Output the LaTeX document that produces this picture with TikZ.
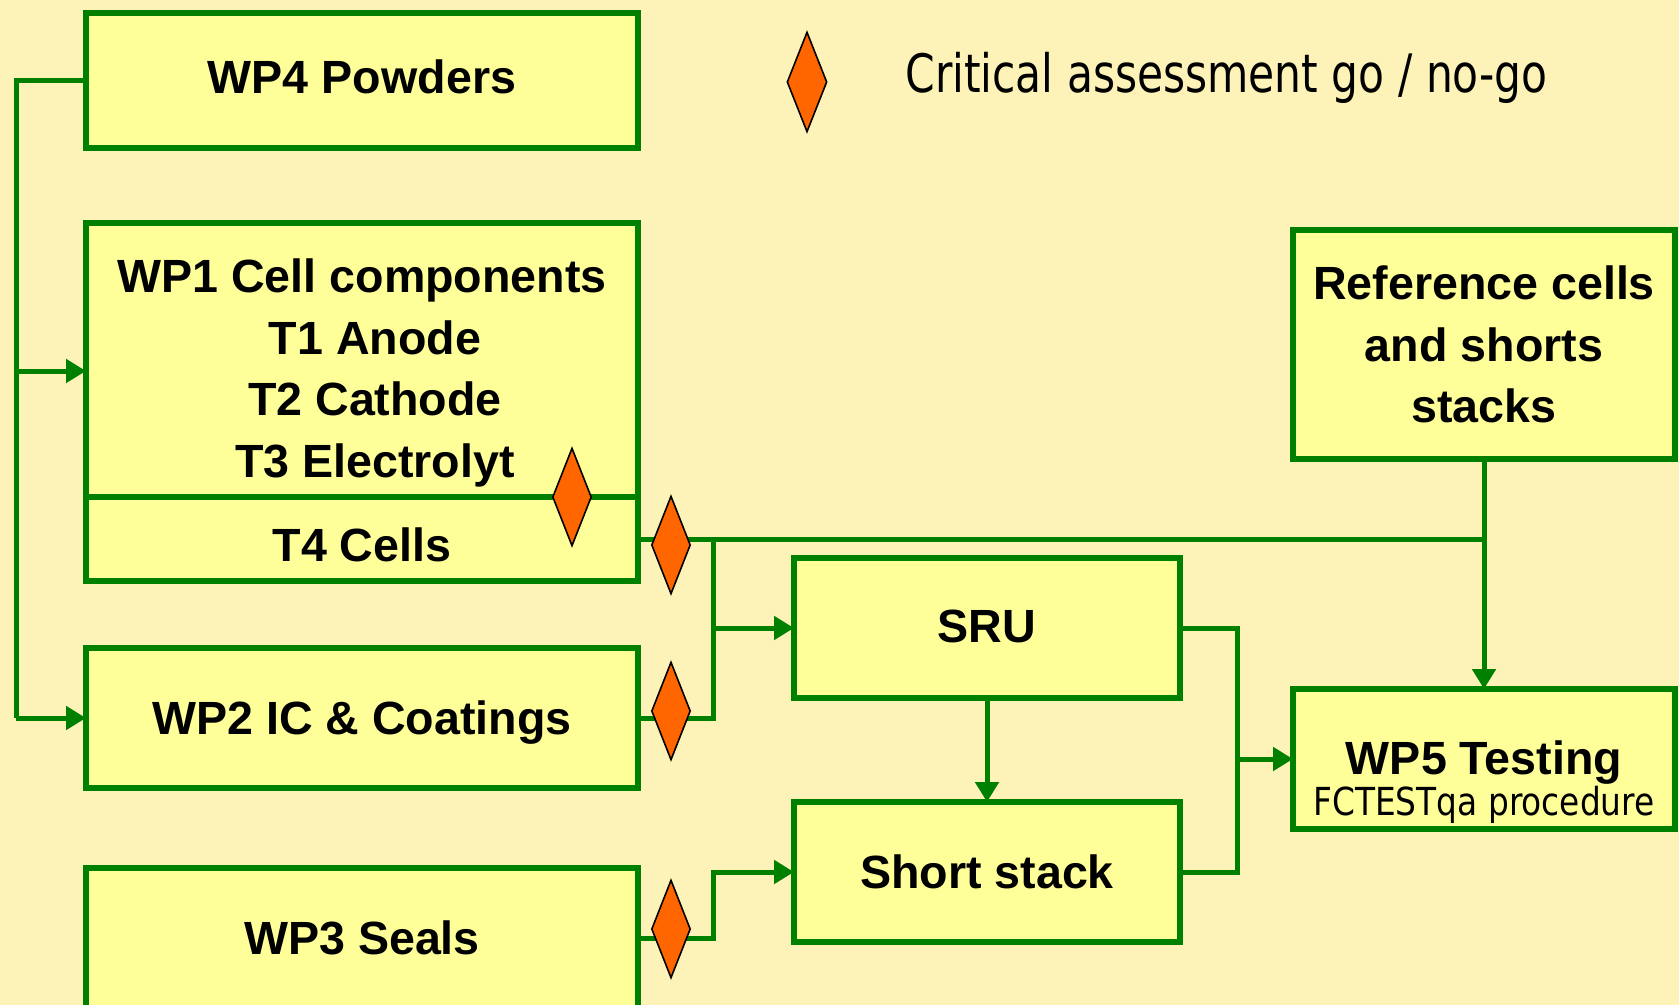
\documentclass[tikz,border=0pt]{standalone}
\usepackage{fontspec}
\setmainfont{Liberation Sans}
\newfontfamily\keyfam[FakeStretch=0.8]{DejaVu Sans}
\newfontfamily\subfam[FakeStretch=0.85]{DejaVu Sans}
\usetikzlibrary{arrows.meta,positioning,shapes.geometric}
\definecolor{pagebg}{HTML}{FDF3B8}
\definecolor{wpfill}{HTML}{FFFF99}
\definecolor{wpline}{HTML}{008000}
\definecolor{gatefill}{HTML}{FF6600}
\newcommand{\wpfont}{\bfseries\fontsize{23.3}{30.75}\selectfont}
\newcommand{\keyfont}{\keyfam\fontsize{26.5}{30}\selectfont}
\newcommand{\subfont}{\subfam\fontsize{19.3}{23}\selectfont}
\newcommand{\dropby}[2]{\raisebox{-#1}[\height][\depth]{#2}}

\begin{document}
\begin{tikzpicture}[x=0.5pt,y=-0.5pt,
  wp/.style={draw=wpline,fill=wpfill,line width=3pt,outer sep=0pt,inner sep=0pt,
             align=center,font=\wpfont,minimum width=276pt,minimum height=70pt},
  gate/.style={diamond,draw=black,fill=gatefill,line width=0.8pt,inner sep=0pt,
               minimum width=19.5pt,minimum height=49pt},
  link/.style={wpline,line width=2.5pt},
  flow/.style={link,-{Triangle[length=10pt,width=11.5pt]}}]
  \useasboundingbox (0,0) rectangle (1679,1005);
  \clip (0,0) rectangle (1679,1005);
  \fill[pagebg] (0,0) rectangle (1679,1005);
  \node[wp,minimum height=67.5pt] (wp4) at (362,80.5) {\dropby{-1.6pt}{WP4 Powders}};
  \node[wp,minimum height=137pt] (wp1) at (362,360)
       {\dropby{6.4pt}{\begin{tabular}{@{}c@{}}WP1 Cell components\\\hspace*{13pt}T1 Anode\\
        \hspace*{13pt}T2 Cathode\\\hspace*{13pt}T3 Electrolyt\end{tabular}}};
  \node[wp,minimum height=42pt,below=0pt of wp1] (t4) {\dropby{2.7pt}{T4 Cells}};
  \node[wp,below=33.5pt of t4] (wp2) {\dropby{2.1pt}{WP2 IC \& Coatings}};
  \node[wp,below=40pt of wp2] (wp3) {WP3 Seals};
  \node[wp,minimum width=193pt] (sru) at (987,628) {\dropby{-1pt}{SRU}};
  \node[wp,minimum width=193pt,below=52pt of sru] (stack) {Short stack};
  \node[wp,minimum width=191pt,minimum height=114.5pt] (ref) at (1484,344.5)
       {Reference cells\\and shorts\\stacks};
  \node[wp,minimum width=191pt,below=115pt of ref] (wp5) {};
  \node[font=\wpfont,inner sep=0pt] (wp5t) at ([yshift=-2pt]wp5.center) {WP5 Testing};
  \node[font=\subfont,inner sep=0pt] (wp5s) at ([yshift=-23pt]wp5.center) {FCTESTqa procedure};
  \node[gate,minimum width=20pt,minimum height=50pt] (key) at (807,82) {};
  \node[font=\keyfont,inner sep=0pt,anchor=west] (keytxt) at (905,78)
       {Critical assessment go / no-go};
  \coordinate (lbus) at (16,0);
  \coordinate (mbus) at (713,0);
  \coordinate (rbus) at (1237,0);
  \draw[link] (wp4.west) -- (lbus |- wp4.west) -- (lbus |- wp2.west);
  \draw[flow] (lbus |- 0,371) -- (wp1.west |- 0,371);
  \draw[flow] (lbus |- wp2.west) -- (wp2.west);
  \draw[link] (t4.east) -- (ref.south |- t4.east);
  \draw[flow] (ref.south) -- (wp5.north);
  \draw[link] (wp2.east) -| (mbus |- t4.east);
  \draw[flow] (mbus |- sru.west) -- (sru.west);
  \draw[flow] (wp3.east) -| (mbus |- stack.west) -- (stack.west);
  \draw[flow] (sru.south) -- (stack.north);
  \draw[link] (sru.east) -| (rbus |- stack.east) -- (stack.east);
  \draw[flow] (rbus |- wp5.west) -- (wp5.west);
  \node[gate] (g1) at (572,497) {};
  \node[gate] (g2) at (671,545) {};
  \node[gate] (g3) at (671,711) {};
  \node[gate] (g4) at (671,929) {};
\end{tikzpicture}
\end{document}
